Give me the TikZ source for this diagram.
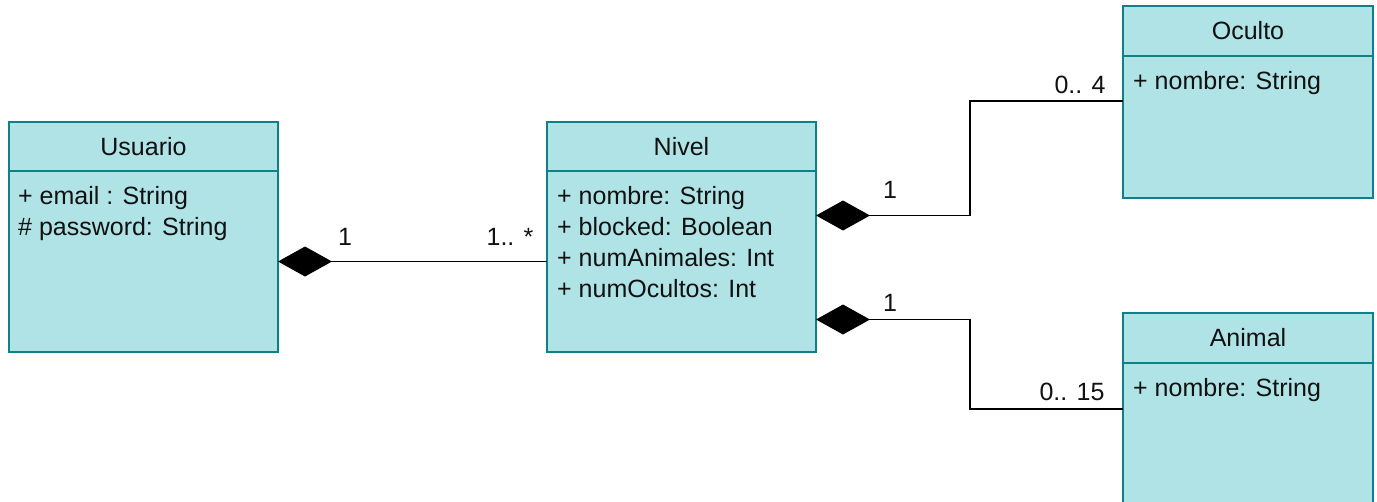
\documentclass[tikz,border=0pt]{standalone}
\usepackage{fontspec}
\setmainfont{Liberation Sans}
\usetikzlibrary{arrows.meta,positioning}

\definecolor{classfill}{HTML}{B0E3E6}
\definecolor{classline}{HTML}{0E8088}
\definecolor{textgray}{HTML}{111111}

\begin{document}
\begin{tikzpicture}[
  x=1pt, y=-1pt,
  every node/.style={font=\fontsize{25}{31}\selectfont, text=textgray},
  classhead/.style={rectangle, draw=classline, fill=classfill, line width=1.5pt,
    anchor=north west, inner sep=0pt, outer sep=0pt},
  classbody/.style={rectangle, draw=classline, fill=classfill, line width=1.5pt,
    anchor=north, inner sep=0pt, outer sep=0pt},
  attrs/.style={anchor=north west, align=left, inner sep=0pt},
  mult/.style={inner sep=0pt},
  comp/.style={{Diamond[length=54pt,width=30pt]}-, line width=1.5pt, black}
]
\useasboundingbox (0,0) rectangle (1377,501);

% ---------- Usuario ----------
\node[classhead, minimum width=269pt, minimum height=49pt] (usuarioHead) at (9,122) {Usuario};
\node[classbody, minimum width=269pt, minimum height=181pt] (usuario) at (usuarioHead.south) {};
\node[attrs] (usuarioAttrs) at ([xshift=9pt,yshift=-15pt]usuario.north west)
  {+ email : String\\\# password: String};

% ---------- Nivel ----------
\node[classhead, minimum width=269pt, minimum height=49pt] (nivelHead) at (547,122) {Nivel};
\node[classbody, minimum width=269pt, minimum height=181pt] (nivel) at (nivelHead.south) {};
\node[attrs] (nivelAttrs) at ([xshift=10pt,yshift=-15pt]nivel.north west)
  {+ nombre: String\\+ blocked: Boolean\\+ numAnimales: Int\\+ numOcultos: Int};

% ---------- Oculto ----------
\node[classhead, minimum width=250pt, minimum height=50pt] (ocultoHead) at (1123,6) {Oculto};
\node[classbody, minimum width=250pt, minimum height=142pt] (oculto) at (ocultoHead.south) {};
\node[attrs] (ocultoAttrs) at ([xshift=10pt,yshift=-15pt]oculto.north west) {+ nombre: String};

% ---------- Animal ----------
\node[classhead, minimum width=250pt, minimum height=50pt] (animalHead) at (1123,313) {Animal};
\node[classbody, minimum width=250pt, minimum height=142pt] (animal) at (animalHead.south) {};
\node[attrs] (animalAttrs) at ([xshift=10pt,yshift=-15pt]animal.north west) {+ nombre: String};

% ---------- composiciones ----------
\draw[comp] (usuario.east) -- (nivel.west);
\draw[comp] ([yshift=46pt]nivel.east) -- ++(154,0) |- ([yshift=26pt]oculto.west);
\draw[comp] ([yshift=-58pt]nivel.east) -- ++(154,0) |- ([yshift=25pt]animal.west);

% ---------- multiplicidades ----------
\node[mult] (mUsuario) at (345,237) {1};
\node[mult] (mNivelU)  at (510,237) {1.. *};
\node[mult] (mNivelO)  at (890,190) {1};
\node[mult] (mOculto)  at (1080,85) {0.. 4};
\node[mult] (mNivelA)  at (890,303) {1};
\node[mult] (mAnimal)  at (1072,392) {0.. 15};

\end{tikzpicture}
\end{document}
